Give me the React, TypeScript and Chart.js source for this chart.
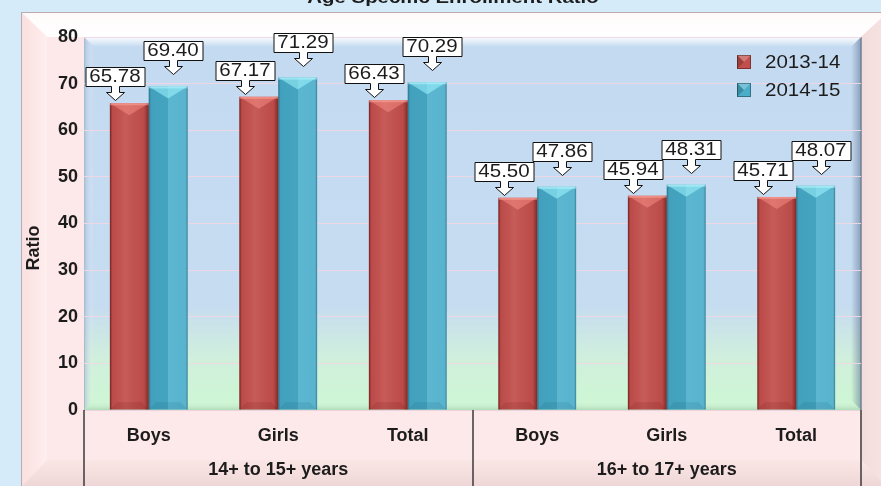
import React, { useEffect, useRef } from "react";
import { Chart, registerables } from "chart.js";

Chart.register(...registerables);

// ---------- data ----------
const CHART_TITLE = "Age Specific Enrollment Ratio";
const Y_AXIS_TITLE = "Ratio";
const CATEGORIES = ["Boys", "Girls", "Total", "Boys", "Girls", "Total"];
const GROUP_LABELS = ["14+ to 15+ years", "16+ to 17+ years"];
const GROUP_SIZES = [3, 3];
const SERIES_LABELS = ["2013-14", "2014-15"];
const VALUES_2013_14 = [65.78, 67.17, 66.43, 45.5, 45.94, 45.71];
const VALUES_2014_15 = [69.4, 71.29, 70.29, 47.86, 48.31, 48.07];
const Y_MIN = 0;
const Y_MAX = 80;
const Y_STEP = 10;

// ---------- style ----------
const W = 881;
const H = 486;
const FONT = '"Liberation Sans", Arial, sans-serif';
const SERIES_COLORS = ["#c24f4c", "#4aaecb"];
const TEXT_COLOR = "#1c1c1c";

function stretchedText(ctx: CanvasRenderingContext2D, text: string, x: number, y: number, font: string, sx: number, align: CanvasTextAlign = "center", baseline: CanvasTextBaseline = "middle") {
  ctx.save();
  ctx.translate(x, y);
  ctx.scale(sx, 1);
  ctx.font = font;
  ctx.textAlign = align;
  ctx.textBaseline = baseline;
  ctx.fillStyle = TEXT_COLOR;
  ctx.fillText(text, 0, 0);
  ctx.restore();
}

const backgroundPlugin = {
  id: "bgFrame",
  beforeDraw(chart: any) {
    const { ctx, chartArea: a } = chart;
    ctx.save();
    ctx.fillStyle = "#d6ebf9";
    ctx.fillRect(0, 0, W, H);

    const o = { l: 21, t: 12, r: 888, b: 487 };
    const i = { l: 47, t: 37, r: a.right, b: 460 };
    ctx.fillStyle = "#fde9e9";
    ctx.fillRect(o.l, o.t, o.r - o.l, o.b - o.t + 20);

    let g = ctx.createLinearGradient(0, o.t, 0, i.t);
    g.addColorStop(0, "#fffafa");
    g.addColorStop(1, "#ffffff");
    ctx.fillStyle = g;
    ctx.beginPath();
    ctx.moveTo(o.l, o.t); ctx.lineTo(o.r, o.t); ctx.lineTo(i.r, i.t); ctx.lineTo(i.l, i.t); ctx.closePath();
    ctx.fill();

    g = ctx.createLinearGradient(o.l, 0, i.l, 0);
    g.addColorStop(0, "#fbdfdf");
    g.addColorStop(1, "#feeeee");
    ctx.fillStyle = g;
    ctx.beginPath();
    ctx.moveTo(o.l, o.t); ctx.lineTo(i.l, i.t); ctx.lineTo(i.l, i.b); ctx.lineTo(o.l, o.b); ctx.closePath();
    ctx.fill();

    g = ctx.createLinearGradient(i.r, 0, o.r, 0);
    g.addColorStop(0, "#f2dbdb");
    g.addColorStop(1, "#f8e4e4");
    ctx.fillStyle = g;
    ctx.beginPath();
    ctx.moveTo(o.r, o.t); ctx.lineTo(i.r, i.t); ctx.lineTo(i.r, i.b); ctx.lineTo(o.r, o.b); ctx.closePath();
    ctx.fill();

    g = ctx.createLinearGradient(0, i.b, 0, o.b);
    g.addColorStop(0, "#fbe6e6");
    g.addColorStop(1, "#eed6d6");
    ctx.fillStyle = g;
    ctx.beginPath();
    ctx.moveTo(o.l, o.b); ctx.lineTo(i.l, i.b); ctx.lineTo(i.r, i.b); ctx.lineTo(o.r, o.b); ctx.closePath();
    ctx.fill();

    ctx.strokeStyle = "#bcaaae";
    ctx.lineWidth = 1;
    ctx.strokeRect(o.l + 0.5, o.t + 0.5, o.r - o.l, o.b - o.t + 20);

    g = ctx.createLinearGradient(0, a.top, 0, a.bottom);
    g.addColorStop(0, "#c4daf1");
    g.addColorStop(0.72, "#c6dcf1");
    g.addColorStop(0.86, "#d0efdc");
    g.addColorStop(1, "#cdf7d3");
    ctx.fillStyle = g;
    ctx.fillRect(a.left, a.top, a.right - a.left, a.bottom - a.top);

    const d = 10;
    g = ctx.createLinearGradient(0, a.top, 0, a.top + d);
    g.addColorStop(0, "rgba(255,255,255,0.95)");
    g.addColorStop(1, "rgba(255,255,255,0)");
    ctx.fillStyle = g;
    ctx.beginPath();
    ctx.moveTo(a.left, a.top); ctx.lineTo(a.right, a.top); ctx.lineTo(a.right - d, a.top + d); ctx.lineTo(a.left + d, a.top + d); ctx.closePath();
    ctx.fill();

    g = ctx.createLinearGradient(a.left, 0, a.left + d, 0);
    g.addColorStop(0, "rgba(150,175,205,0.6)");
    g.addColorStop(1, "rgba(255,255,255,0)");
    ctx.fillStyle = g;
    ctx.beginPath();
    ctx.moveTo(a.left, a.top); ctx.lineTo(a.left + d, a.top + d); ctx.lineTo(a.left + d, a.bottom - d); ctx.lineTo(a.left, a.bottom); ctx.closePath();
    ctx.fill();

    g = ctx.createLinearGradient(a.right - d, 0, a.right, 0);
    g.addColorStop(0, "rgba(90,110,140,0)");
    g.addColorStop(1, "rgba(90,110,140,0.55)");
    ctx.fillStyle = g;
    ctx.beginPath();
    ctx.moveTo(a.right, a.top); ctx.lineTo(a.right - d, a.top + d); ctx.lineTo(a.right - d, a.bottom - d); ctx.lineTo(a.right, a.bottom); ctx.closePath();
    ctx.fill();

    g = ctx.createLinearGradient(0, a.bottom - d, 0, a.bottom);
    g.addColorStop(0, "rgba(255,255,255,0)");
    g.addColorStop(1, "rgba(120,170,130,0.35)");
    ctx.fillStyle = g;
    ctx.beginPath();
    ctx.moveTo(a.left, a.bottom); ctx.lineTo(a.left + d, a.bottom - d); ctx.lineTo(a.right - d, a.bottom - d); ctx.lineTo(a.right, a.bottom); ctx.closePath();
    ctx.fill();

    ctx.strokeStyle = "#6f8196";
    ctx.lineWidth = 1.5;
    ctx.beginPath();
    ctx.moveTo(a.right, a.top); ctx.lineTo(a.right, a.bottom);
    ctx.stroke();
    ctx.strokeStyle = "#8aa395";
    ctx.lineWidth = 1;
    ctx.beginPath();
    ctx.moveTo(a.left, a.bottom + 0.5); ctx.lineTo(a.right, a.bottom + 0.5);
    ctx.stroke();
    ctx.strokeStyle = "#a8bcd2";
    ctx.beginPath();
    ctx.moveTo(a.left + 0.5, a.top); ctx.lineTo(a.left + 0.5, a.bottom);
    ctx.stroke();

    stretchedText(ctx, CHART_TITLE, 453, 3, `bold 17px ${FONT}`, 1.2, "center", "alphabetic");
    ctx.restore();
  },
};

const barShadePlugin = {
  id: "barShade",
  afterDatasetsDraw(chart: any) {
    const ctx = chart.ctx;
    ctx.save();
    chart.data.datasets.forEach((_ds: any, di: number) => {
      const meta = chart.getDatasetMeta(di);
      meta.data.forEach((el: any) => {
        const { x, y, base, width } = el.getProps(["x", "y", "base", "width"], true);
        const l = x - width / 2;
        const r = x + width / 2;
        const h = base - y;
        const g = ctx.createLinearGradient(l, 0, r, 0);
        if (di === 0) {
          g.addColorStop(0, "rgba(60,5,5,0.6)");
          g.addColorStop(0.06, "rgba(60,5,5,0.05)");
          g.addColorStop(0.4, "rgba(255,255,255,0.07)");
          g.addColorStop(0.88, "rgba(60,5,5,0.06)");
          g.addColorStop(1, "rgba(60,5,5,0.5)");
        } else {
          g.addColorStop(0, "rgba(0,45,65,0.45)");
          g.addColorStop(0.06, "rgba(0,45,65,0.1)");
          g.addColorStop(0.5, "rgba(0,45,65,0.08)");
          g.addColorStop(0.5, "rgba(255,255,255,0.1)");
          g.addColorStop(0.92, "rgba(255,255,255,0.08)");
          g.addColorStop(1, "rgba(0,45,65,0.4)");
        }
        ctx.fillStyle = g;
        ctx.fillRect(l, y, width, h);

        const d = Math.min(width / 2, 12, h / 2);
        ctx.beginPath();
        ctx.moveTo(l, y); ctx.lineTo(r, y); ctx.lineTo(x, y + d); ctx.closePath();
        ctx.fillStyle = di === 0 ? "rgba(255,150,140,0.45)" : "rgba(160,245,255,0.55)";
        ctx.fill();
        ctx.fillStyle = di === 0 ? "rgba(255,170,160,0.5)" : "rgba(190,250,255,0.5)";
        ctx.fillRect(l, y, width, 2);
        ctx.beginPath();
        ctx.moveTo(l, base); ctx.lineTo(r, base); ctx.lineTo(r - d * 0.6, base - d * 0.6); ctx.lineTo(l + d * 0.6, base - d * 0.6); ctx.closePath();
        ctx.fillStyle = di === 0 ? "rgba(90,10,10,0.12)" : "rgba(0,60,90,0.1)";
        ctx.fill();
      });
    });
    ctx.restore();
  },
};

const labelPlugin = {
  id: "calloutLabels",
  afterDatasetsDraw(chart: any) {
    const ctx = chart.ctx;
    ctx.save();
    const font = `18px ${FONT}`;
    const sx = 1.14;
    chart.data.datasets.forEach((ds: any, di: number) => {
      const meta = chart.getDatasetMeta(di);
      meta.data.forEach((el: any, idx: number) => {
        const { x, y } = el.getProps(["x", "y"], true);
        const text = Number(ds.data[idx]).toFixed(2);
        ctx.font = font;
        const tw = ctx.measureText(text).width * sx;
        const bw = Math.round(tw + 8);
        const bh = 19;
        const cx = Math.round(x + (di === 0 ? -14 : 5));
        const tip = Math.round(y - (di === 0 ? 3 : 12));
        const bb = tip - 14;
        const bt = bb - bh;
        const bl = cx - bw / 2;
        ctx.beginPath();
        ctx.moveTo(bl + 0.5, bt + 0.5);
        ctx.lineTo(bl + bw + 0.5, bt + 0.5);
        ctx.lineTo(bl + bw + 0.5, bb + 0.5);
        ctx.lineTo(cx + 4.5, bb + 0.5);
        ctx.lineTo(cx + 4.5, bb + 6.5);
        ctx.lineTo(cx + 9.5, bb + 6.5);
        ctx.lineTo(cx + 0.5, tip + 0.5);
        ctx.lineTo(cx - 8.5, bb + 6.5);
        ctx.lineTo(cx - 3.5, bb + 6.5);
        ctx.lineTo(cx - 3.5, bb + 0.5);
        ctx.lineTo(bl + 0.5, bb + 0.5);
        ctx.closePath();
        ctx.fillStyle = "#ffffff";
        ctx.fill();
        ctx.strokeStyle = "#111111";
        ctx.lineWidth = 1;
        ctx.stroke();
        stretchedText(ctx, text, cx, bt + bh / 2 + 1, font, sx);
      });
    });
    ctx.restore();
  },
};

const legendPlugin = {
  id: "customLegend",
  afterDraw(chart: any) {
    const ctx = chart.ctx;
    const a = chart.chartArea;
    ctx.save();
    chart.data.datasets.forEach((ds: any, di: number) => {
      const cy = a.top + 25 + di * 28;
      const mx = a.right - 124;
      const s = 14;
      const col = SERIES_COLORS[di];
      ctx.fillStyle = col;
      ctx.fillRect(mx, cy - s / 2, s, s);
      ctx.beginPath();
      ctx.moveTo(mx, cy - s / 2); ctx.lineTo(mx + s, cy - s / 2); ctx.lineTo(mx + s / 2, cy); ctx.closePath();
      ctx.fillStyle = "rgba(255,255,255,0.25)";
      ctx.fill();
      ctx.beginPath();
      ctx.moveTo(mx, cy - s / 2); ctx.lineTo(mx + s / 2, cy); ctx.lineTo(mx, cy + s / 2); ctx.closePath();
      ctx.fillStyle = "rgba(0,0,0,0.2)";
      ctx.fill();
      ctx.strokeStyle = "rgba(0,0,0,0.35)";
      ctx.lineWidth = 1;
      ctx.strokeRect(mx + 0.5, cy - s / 2 + 0.5, s - 1, s - 1);
      stretchedText(ctx, ds.label, mx + 28, cy + 1, `18px ${FONT}`, 1.14, "left", "middle");
    });
    ctx.restore();
  },
};

const axisDecorPlugin = {
  id: "axisDecor",
  afterDraw(chart: any) {
    const ctx = chart.ctx;
    const a = chart.chartArea;
    const xs = chart.scales.x;
    ctx.save();
    const bounds: number[] = [a.left];
    let start = 0;
    const centers: number[] = [];
    GROUP_SIZES.forEach((n) => {
      const first = xs.getPixelForValue(start);
      const last = xs.getPixelForValue(start + n - 1);
      centers.push((first + last) / 2);
      start += n;
      if (start < CATEGORIES.length) {
        bounds.push((xs.getPixelForValue(start - 1) + xs.getPixelForValue(start)) / 2);
      }
    });
    bounds.push(a.right);
    ctx.strokeStyle = "#3a3a3a";
    ctx.lineWidth = 1.5;
    bounds.forEach((bx) => {
      ctx.beginPath();
      ctx.moveTo(Math.round(bx), a.bottom);
      ctx.lineTo(Math.round(bx), H);
      ctx.stroke();
    });
    ctx.fillStyle = TEXT_COLOR;
    ctx.font = `bold 18px ${FONT}`;
    ctx.textAlign = "center";
    ctx.textBaseline = "middle";
    GROUP_LABELS.forEach((lab, gi) => {
      ctx.fillText(lab, centers[gi], 470);
    });
    ctx.translate(34, 248);
    ctx.rotate(-Math.PI / 2);
    ctx.fillText(Y_AXIS_TITLE, 0, 0);
    ctx.restore();
  },
};

export default function App() {
  const ref = useRef<HTMLCanvasElement | null>(null);
  useEffect(() => {
    if (!ref.current) return;
    const chart = new Chart(ref.current, {
      type: "bar",
      data: {
        labels: CATEGORIES,
        datasets: [
          { label: SERIES_LABELS[0], data: VALUES_2013_14, backgroundColor: SERIES_COLORS[0], borderWidth: 0, barPercentage: 1, categoryPercentage: 0.6 },
          { label: SERIES_LABELS[1], data: VALUES_2014_15, backgroundColor: SERIES_COLORS[1], borderWidth: 0, barPercentage: 1, categoryPercentage: 0.6 },
        ],
      },
      options: {
        animation: false,
        responsive: false,
        maintainAspectRatio: false,
        devicePixelRatio: 1,
        layout: { padding: { top: 37, right: 20, left: 0, bottom: 0 } },
        plugins: {
          legend: { display: false },
          title: { display: false },
          tooltip: { enabled: false },
        },
        scales: {
          x: {
            grid: { display: false },
            border: { display: false },
            ticks: { color: TEXT_COLOR, font: { family: FONT, size: 18, weight: "bold" }, padding: 7, maxRotation: 0, autoSkip: false },
            afterFit: (s: any) => { s.height = 76; },
          },
          y: {
            min: Y_MIN,
            max: Y_MAX,
            ticks: { stepSize: Y_STEP, color: TEXT_COLOR, font: { family: FONT, size: 18, weight: "bold" }, padding: 6 },
            grid: { color: "rgba(240,215,228,0.95)", drawTicks: false, lineWidth: 1 },
            border: { display: false },
            afterFit: (s: any) => { s.width = 84; },
          },
        },
      } as any,
      plugins: [backgroundPlugin, barShadePlugin, labelPlugin, legendPlugin, axisDecorPlugin],
    });
    return () => chart.destroy();
  }, []);
  return (
    <div style={{ position: "fixed", left: 0, top: 0, width: W, height: H, overflow: "hidden" }}>
      <canvas ref={ref} width={W} height={H} style={{ display: "block", width: W, height: H }} />
    </div>
  );
}
